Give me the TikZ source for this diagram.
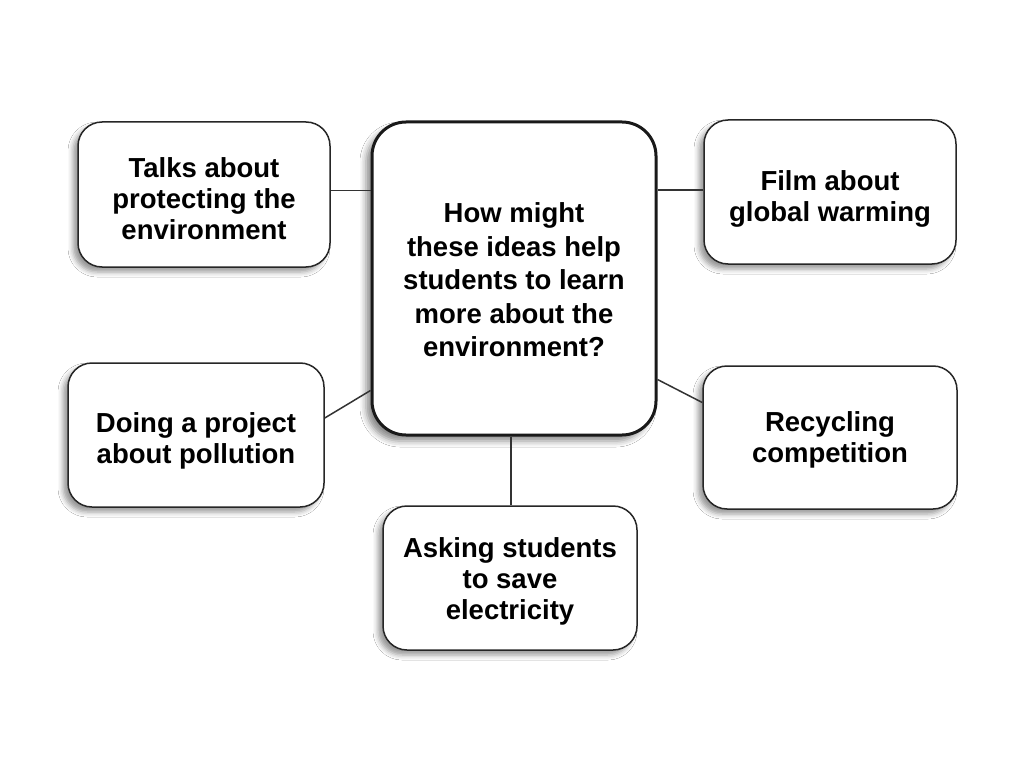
\documentclass[tikz,border=0pt]{standalone}
\usepackage{fontspec}
\setmainfont{Liberation Sans}
\usetikzlibrary{shadows.blur}
\tikzset{
  txt/.style={align=center, inner sep=0pt, font=\bfseries\fontsize{27.5}{31}\selectfont},
  hubtxt/.style={align=center, inner sep=0pt, font=\bfseries\fontsize{27.5}{33.5}\selectfont},
  idea/.style={draw=black!85, line width=1.5pt, rounded corners=24pt, fill=white,
    minimum width=#1, inner sep=0pt,
    blur shadow={shadow xshift=-5pt, shadow yshift=-5pt, shadow blur radius=5pt, shadow opacity=40}},
  hub/.style={draw=black!90, line width=3pt, rounded corners=34pt, fill=white,
    minimum width=284pt, minimum height=313pt, inner sep=0pt,
    blur shadow={shadow xshift=-6pt, shadow yshift=-6pt, shadow blur radius=6pt, shadow opacity=45}},
  link/.style={draw=black!80, line width=1.5pt}
}
\begin{document}
\begin{tikzpicture}[x=1pt,y=-1pt]
\useasboundingbox[fill=white] (0,0) rectangle (1024,767);
\node[hub, label={[hubtxt,yshift=-1.5pt]center:{How might\\these ideas help\\students to learn\\more about the\\environment?}}] (c) at (514,278.5) {};
\node[idea=252pt, minimum height=145pt, label={[txt,yshift=-4.5pt]center:{Talks about\\protecting the\\environment}}] (tl) at (204,194.5) {};
\node[idea=252pt, minimum height=144pt, label={[txt,yshift=-7pt]center:{Film about\\global warming}}] (tr) at (830,192) {};
\node[idea=256pt, minimum height=144pt, label={[txt,yshift=-6pt]center:{Doing a project\\about pollution}}] (ml) at (196,435) {};
\node[idea=254pt, minimum height=143pt, label={[txt,yshift=-2pt]center:{Recycling\\competition}}] (mr) at (830,437.5) {};
\node[idea=254pt, minimum height=144pt, label={[txt,yshift=-3pt]center:{Asking students\\to save\\electricity}}] (b) at (510,578) {};
\draw[link] ([yshift=4pt]tl.east) -- ([yshift=4pt]tl.east -| c.west);
\draw[link] ([yshift=2pt]tr.west) -- ([yshift=2pt]tr.west -| c.east);
\draw[link] ([yshift=17pt]ml.east) -- ([yshift=-112pt]c.west);
\draw[link] ([yshift=-101pt]c.east) -- ([yshift=35pt]mr.west);
\draw[link] ([xshift=-3pt]c.south) -- ([xshift=-3pt]c.south |- b.north);
\end{tikzpicture}
\end{document}
